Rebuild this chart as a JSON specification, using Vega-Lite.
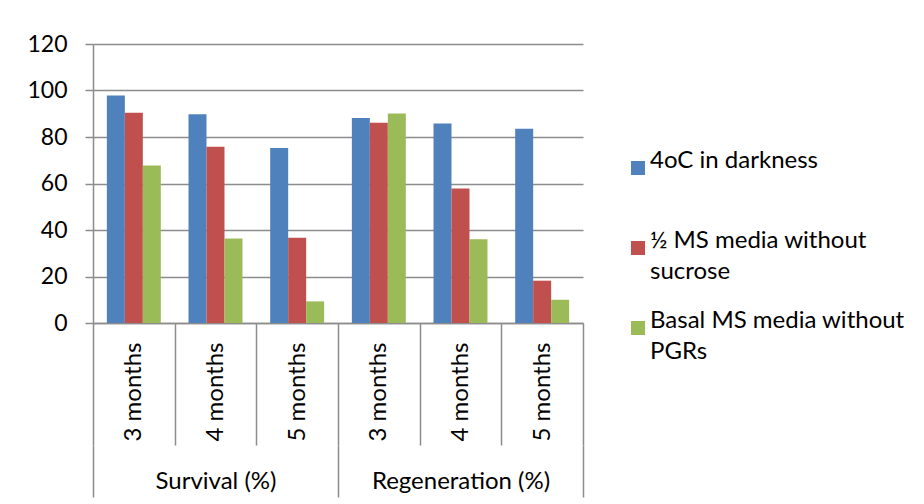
{
  "$schema": "https://vega.github.io/schema/vega-lite/v6.json",
  "width": 490,
  "height": 279,
  "autosize": "none",
  "padding": {"left": 93, "top": 44, "right": 341, "bottom": 181},
  "background": "white",
  "config": {
    "font": "Lato",
    "view": {"stroke": null},
    "style": {"guide-label": {"lineHeight": 31}},
    "axis": {"labelFont": "Lato", "labelColor": "#000000", "domainColor": "#8c8c8c", "tickColor": "#8c8c8c", "gridColor": "#8c8c8c", "domainWidth": 1.5, "tickWidth": 1.5, "gridWidth": 1.5},
    "legend": {"labelFont": "Lato", "labelColor": "#000000"}
  },
  "data": {
    "values": [
      {"group": "Survival (%)", "cat": "Survival (%)|3 months", "series": "4oC in darkness", "value": 97.8},
      {"group": "Survival (%)", "cat": "Survival (%)|3 months", "series": "½ MS media without sucrose", "value": 90.4},
      {"group": "Survival (%)", "cat": "Survival (%)|3 months", "series": "Basal MS media without PGRs", "value": 67.7},
      {"group": "Survival (%)", "cat": "Survival (%)|4 months", "series": "4oC in darkness", "value": 89.8},
      {"group": "Survival (%)", "cat": "Survival (%)|4 months", "series": "½ MS media without sucrose", "value": 75.8},
      {"group": "Survival (%)", "cat": "Survival (%)|4 months", "series": "Basal MS media without PGRs", "value": 36.3},
      {"group": "Survival (%)", "cat": "Survival (%)|5 months", "series": "4oC in darkness", "value": 75.3},
      {"group": "Survival (%)", "cat": "Survival (%)|5 months", "series": "½ MS media without sucrose", "value": 36.7},
      {"group": "Survival (%)", "cat": "Survival (%)|5 months", "series": "Basal MS media without PGRs", "value": 9.3},
      {"group": "Regeneration (%)", "cat": "Regeneration (%)|3 months", "series": "4oC in darkness", "value": 88.2},
      {"group": "Regeneration (%)", "cat": "Regeneration (%)|3 months", "series": "½ MS media without sucrose", "value": 86.1},
      {"group": "Regeneration (%)", "cat": "Regeneration (%)|3 months", "series": "Basal MS media without PGRs", "value": 90.1},
      {"group": "Regeneration (%)", "cat": "Regeneration (%)|4 months", "series": "4oC in darkness", "value": 85.8},
      {"group": "Regeneration (%)", "cat": "Regeneration (%)|4 months", "series": "½ MS media without sucrose", "value": 57.8},
      {"group": "Regeneration (%)", "cat": "Regeneration (%)|4 months", "series": "Basal MS media without PGRs", "value": 36.0},
      {"group": "Regeneration (%)", "cat": "Regeneration (%)|5 months", "series": "4oC in darkness", "value": 83.6},
      {"group": "Regeneration (%)", "cat": "Regeneration (%)|5 months", "series": "½ MS media without sucrose", "value": 18.2},
      {"group": "Regeneration (%)", "cat": "Regeneration (%)|5 months", "series": "Basal MS media without PGRs", "value": 10.0}
    ]
  },
  "resolve": {"scale": {"x": "independent"}, "axis": {"x": "independent"}},
  "layer": [
    {
      "mark": {"type": "bar"},
      "encoding": {
        "x": {
          "field": "cat", "type": "nominal", "sort": null,
          "scale": {"paddingInner": 0, "paddingOuter": 0},
          "axis": {"title": null, "orient": "bottom", "labelAngle": -90, "labelExpr": "split(datum.label, '|')[1]", "tickBand": "extent", "tickSize": 122, "labelPadding": -103, "labelFontSize": 24, "grid": false}
        },
        "xOffset": {"field": "series", "type": "nominal", "sort": ["4oC in darkness", "½ MS media without sucrose", "Basal MS media without PGRs"], "scale": {"paddingInner": 0, "paddingOuter": 0.77}},
        "y": {
          "field": "value", "type": "quantitative", "stack": null,
          "scale": {"domain": [0, 120], "nice": false},
          "axis": {"title": null, "values": [0, 20, 40, 60, 80, 100, 120], "grid": true, "tickSize": 8, "labelPadding": 18, "labelFontSize": 23}
        },
        "color": {
          "field": "series", "type": "nominal",
          "sort": ["4oC in darkness", "½ MS media without sucrose", "Basal MS media without PGRs"],
          "scale": {"range": ["#4F81BD", "#C0504D", "#9BBB59"]},
          "legend": {"orient": "none", "legendX": 533, "legendY": 112, "title": null, "symbolType": "square", "symbolSize": 196, "symbolStrokeWidth": 0, "labelFontSize": 24, "labelLimit": 400, "labelOffset": 0, "rowPadding": 25, "gridAlign": "all", "labelBaseline": "alphabetic",
            "labelExpr": "datum.label == '½ MS media without sucrose' ? ['½ MS media without', 'sucrose'] : datum.label == 'Basal MS media without PGRs' ? ['Basal MS media without', 'PGRs'] : datum.label"}
        }
      }
    },
    {
      "mark": {"type": "bar", "opacity": 0},
      "encoding": {
        "x": {
          "field": "group", "type": "nominal", "sort": ["Survival (%)", "Regeneration (%)"],
          "scale": {"paddingInner": 0, "paddingOuter": 0},
          "axis": {"title": null, "orient": "bottom", "offset": 122, "domain": false, "labelAngle": 0, "tickBand": "extent", "tickSize": 52, "labelPadding": -28, "labelFontSize": 24, "grid": false}
        },
        "y": {"field": "value", "type": "quantitative", "stack": null}
      }
    }
  ]
}
